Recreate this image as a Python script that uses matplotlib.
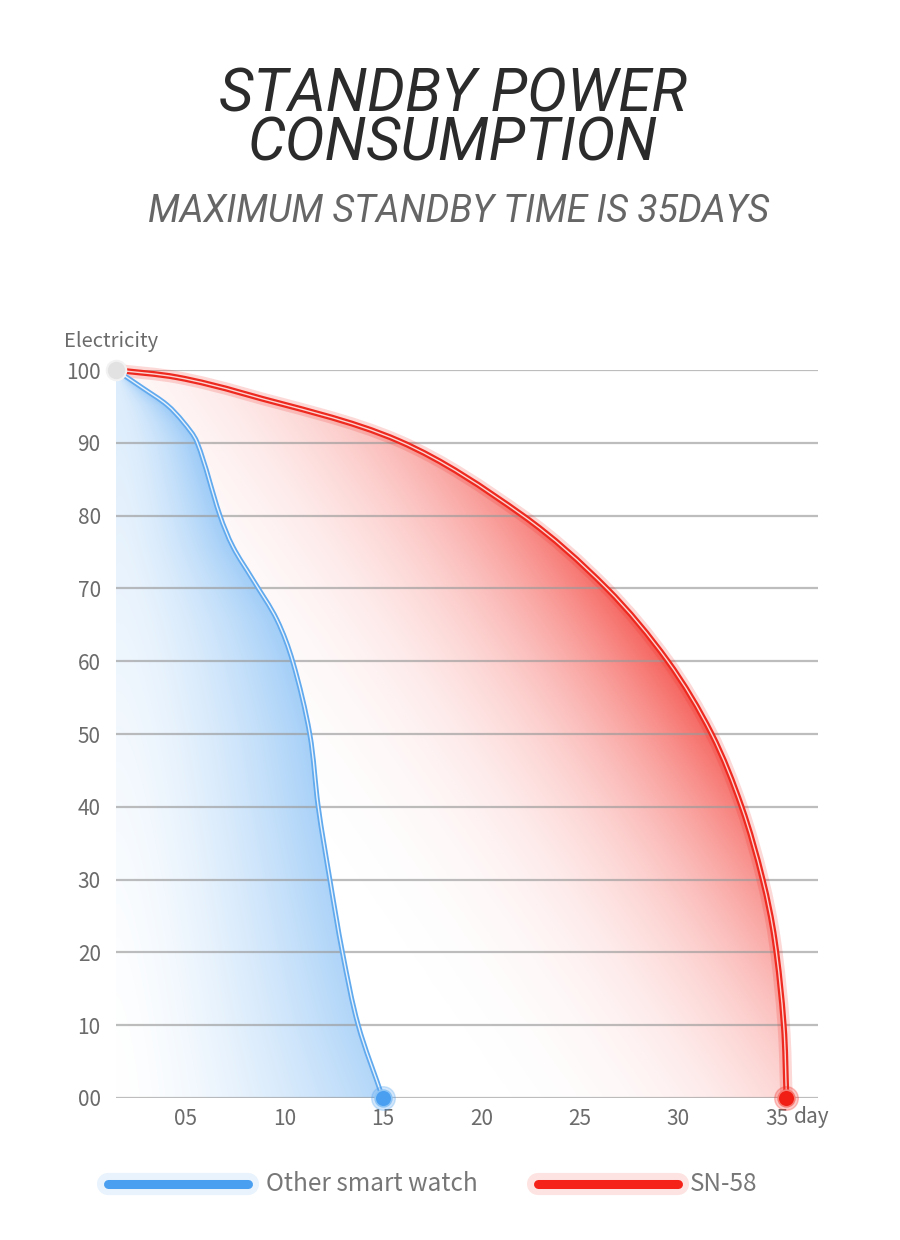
import numpy as np
import matplotlib
matplotlib.use("Agg")
import matplotlib.pyplot as plt
from matplotlib.path import Path
from matplotlib.patches import PathPatch
from matplotlib.lines import Line2D

# data (day, electricity %)
blue_days = [1.45, 2.82, 4.04, 4.85, 5.56, 6.73, 7.39, 8.40, 9.62, 10.43, 11.29,
             11.72, 12.31, 12.95, 13.75, 15.0]
blue_level = [100, 97.5, 95.2, 92.9, 90.1, 80, 75.7, 71.2, 65.7, 59.9, 50,
              40, 30, 20, 10, 0]
red_days = [1.45, 4.54, 7.89, 15.86, 22.11, 26.37, 29.47, 31.7, 33.22, 34.29, 34.9, 35.36, 35.5]
red_level = [100, 99.0, 96.8, 90.2, 80, 70, 60, 50, 40, 30, 21.7, 10, 0]

x_ticks = [5, 10, 15, 20, 25, 30, 35]
x_labels = ["05", "10", "15", "20", "25", "30", "35"]
y_ticks = [0, 10, 20, 30, 40, 50, 60, 70, 80, 90, 100]
y_labels = ["00", "10", "20", "30", "40", "50", "60", "70", "80", "90", "100"]
series_names = ["Other smart watch", "SN-58"]

BLUE = "#4a9ff0"
RED = "#f22a22"
XMIN, XMAX = 1.45, 37.1
SX, SY = 19.7, 7.28  # rough pixels per day / per percent, for shading and smoothing

TITLE_FONT = ["Roboto", "DejaVu Sans"]
LABEL_FONT = ["Noto Sans CJK JP", "DejaVu Sans"]


def smooth_path(xs, ys, close=False):
    # chord-length Catmull-Rom through the read points, as cubic Bezier segments
    p = np.column_stack([xs, ys]).astype(float)
    q = p * [SX, SY]
    d = np.hypot(*np.diff(q, axis=0).T)
    tt = np.concatenate([[0], np.cumsum(d)])
    n = len(p)
    m = np.zeros_like(p)
    for i in range(n):
        a, b = max(i - 1, 0), min(i + 1, n - 1)
        m[i] = (p[b] - p[a]) / (tt[b] - tt[a])
    verts = [p[0]]
    codes = [Path.MOVETO]
    for i in range(n - 1):
        h = tt[i + 1] - tt[i]
        verts += [p[i] + m[i] * h / 3, p[i + 1] - m[i + 1] * h / 3, p[i + 1]]
        codes += [Path.CURVE4] * 3
    if close:
        verts += [[XMIN, 0], p[0]]
        codes += [Path.LINETO, Path.CLOSEPOLY]
    return Path(verts, codes)


fig = plt.figure(figsize=(9, 12.4), dpi=100)
fig.patch.set_facecolor("white")
ax = fig.add_axes([116 / 900, 1 - 1098 / 1240, (818 - 116) / 900, (1098 - 370) / 1240])

# gradient grid in data space, pixel-like units for shading
gx = np.linspace(XMIN, XMAX, 700)
gy = np.linspace(0, 100, 700)
X, Y = np.meshgrid(gx, gy)
PX = (X - XMIN) * SX
PY = Y * SY

# red: diagonal gradient, white at lower left, red towards the far edge
k = 0.7
rpx = (np.array(red_days) - XMIN) * SX + k * np.array(red_level) * SY
s = (PX + k * PY) / rpx.max()
a_red = 0.74 * np.clip((s - 0.3) / 0.7, 0, 1) ** 3.6
red_rgba = np.zeros(X.shape + (4,))
red_rgba[..., :3] = matplotlib.colors.to_rgb(RED)
red_rgba[..., 3] = a_red

# blue: opaque, ramps from the left edge to the curve
xc = np.interp(Y, blue_level[::-1], blue_days[::-1])
t = np.clip((X - XMIN) / np.maximum(xc - XMIN, 1e-6), 0, 1)
yn = Y / 100
a_blue = 0.2 * yn ** 1.5 * (1 - t) + (0.42 + 0.15 * yn) * t ** 1.5
brgb = np.array(matplotlib.colors.to_rgb(BLUE))
blue_rgba = np.ones(X.shape + (4,))
blue_rgba[..., :3] = 1 - (1 - brgb) * a_blue[..., None]

red_clip = PathPatch(smooth_path(red_days, red_level, close=True), transform=ax.transData)
blue_clip = PathPatch(smooth_path(blue_days, blue_level, close=True), transform=ax.transData)

im_r = ax.imshow(red_rgba, extent=[XMIN, XMAX, 0, 100], origin="lower", aspect="auto",
                 interpolation="bilinear", zorder=1)
im_r.set_clip_path(red_clip)
im_b = ax.imshow(blue_rgba, extent=[XMIN, XMAX, 0, 100], origin="lower", aspect="auto",
                 interpolation="bilinear", zorder=2)
im_b.set_clip_path(blue_clip)

# grid lines
for yv in y_ticks:
    ax.axhline(yv, color="#9a9a9a", lw=1.6, alpha=0.65, zorder=3)

# curves with a soft glow and a white core
red_path = smooth_path(red_days, red_level)
blue_path = smooth_path(blue_days, blue_level)
for lw, col, al in [(9, RED, 0.18), (4.2, "#ee2a20", 1.0), (1.0, "white", 0.8)]:
    ax.add_patch(PathPatch(red_path, fill=False, lw=lw, edgecolor=col, alpha=al,
                           zorder=4, clip_on=False, capstyle="round"))
for lw, col, al in [(3.6, "#62aaee", 1.0), (1.0, "white", 0.85)]:
    ax.add_patch(PathPatch(blue_path, fill=False, lw=lw, edgecolor=col, alpha=al,
                           zorder=4, clip_on=False, capstyle="round"))

# end points
ax.plot(blue_days[-1], blue_level[-1], "o", ms=17, color=BLUE, alpha=0.25, zorder=5, clip_on=False)
ax.plot(blue_days[-1], blue_level[-1], "o", ms=12, color=BLUE, mec="#8cc4f5", mew=1.2,
        zorder=6, clip_on=False)
ax.plot(red_days[-1], red_level[-1], "o", ms=17, color=RED, alpha=0.25, zorder=5, clip_on=False)
ax.plot(red_days[-1], red_level[-1], "o", ms=12, color="#f01e14", mec="#f77a72", mew=1.2,
        zorder=6, clip_on=False)
ax.plot(red_days[0], red_level[0], "o", ms=14, color="#e2e2e2", mec="#f2f2f2", mew=1.5,
        zorder=6, clip_on=False)

ax.set_xlim(XMIN, XMAX)
ax.set_ylim(0, 100)
for sp in ax.spines.values():
    sp.set_visible(False)
ax.set_xticks(x_ticks)
ax.set_xticklabels(x_labels, family=LABEL_FONT, fontsize=15, color="#6b6b6b")
ax.set_yticks(y_ticks)
ax.set_yticklabels(y_labels, family=LABEL_FONT, fontsize=15, color="#6b6b6b")
ax.tick_params(length=0, pad=7)
ax.tick_params(axis="y", pad=11)

fig.text(794 / 900, 1 - 1117 / 1240, "day", family=LABEL_FONT, fontsize=15, color="#6b6b6b",
         ha="left", va="center")
fig.text(64 / 900, 1 - 341 / 1240, "Electricity", family=LABEL_FONT, fontsize=14.5,
         color="#6b6b6b", ha="left", va="center")

# titles
fig.text(0.503, 1 - 119 / 1240, "STANDBY POWER\nCONSUMPTION", family=TITLE_FONT,
         style="italic", fontsize=43, color="#2b2b2b", ha="center", va="center",
         multialignment="center", linespacing=0.82)
fig.text(0.51, 1 - 212 / 1240, "MAXIMUM STANDBY TIME IS 35DAYS", family=TITLE_FONT,
         style="italic", fontsize=27, color="#666666", ha="center", va="center")

# legend
ly = 1 - 1184 / 1240
for (x0, x1), col, name, tx in [((108, 248), BLUE, series_names[0], 266),
                                ((538, 678), "#f5221a", series_names[1], 690)]:
    fig.add_artist(Line2D([x0 / 900, x1 / 900], [ly, ly], lw=16, color=col, alpha=0.12,
                          solid_capstyle="round", transform=fig.transFigure))
    fig.add_artist(Line2D([x0 / 900, x1 / 900], [ly, ly], lw=6.5, color=col,
                          solid_capstyle="round", transform=fig.transFigure))
    fig.text(tx / 900, ly, name, family=LABEL_FONT, fontsize=17.5, color="#777777",
             ha="left", va="center")

fig.savefig("out.png", dpi=100, facecolor="white")
